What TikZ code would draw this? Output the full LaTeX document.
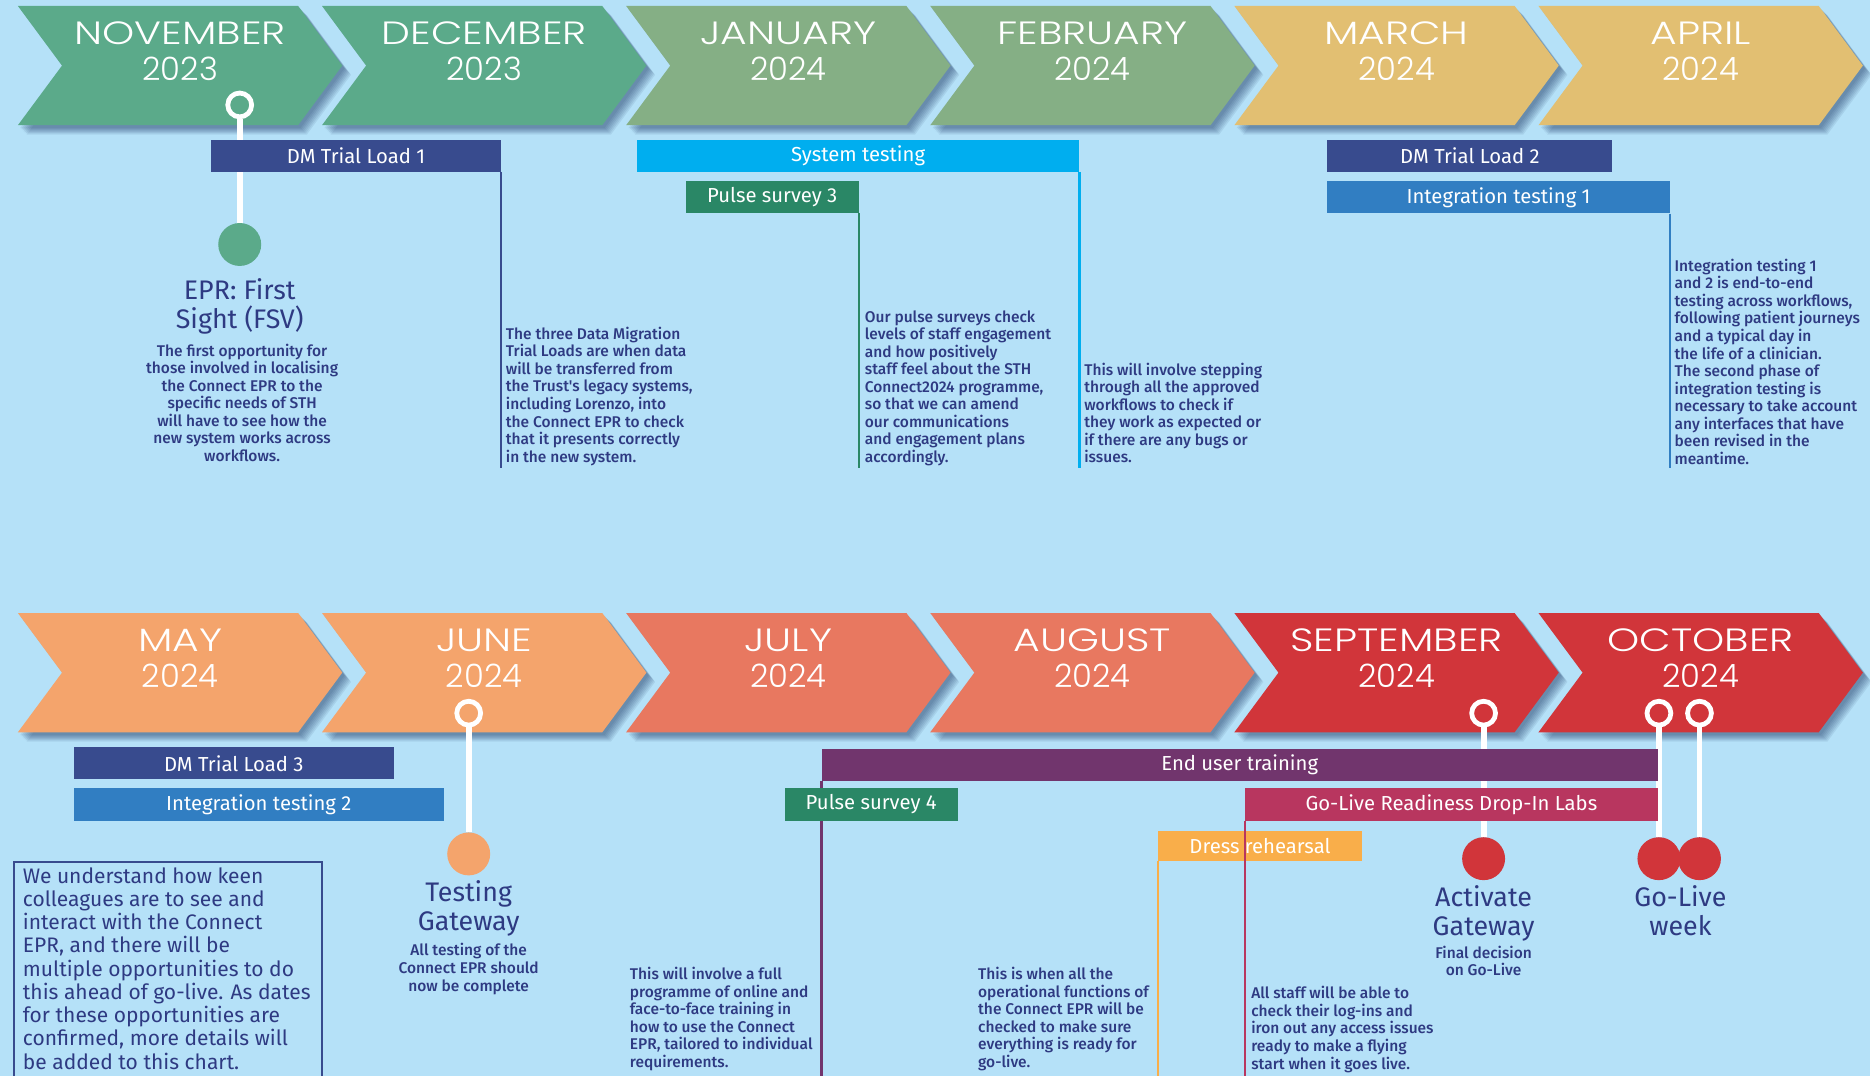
\documentclass[tikz,border=0pt]{standalone}
\usepackage{fontspec}
\usepackage{graphicx}
\setmainfont{Fira Sans}
\IfFontExistsTF{Poppins Light}{\newfontfamily\monthfont{Poppins Light}}{\newfontfamily\monthfont{Poppins}}
\IfFontExistsTF{Fira Sans Medium}{\newfontfamily\descfont{Fira Sans Medium}}{\newfontfamily\descfont{Fira Sans}}
\usetikzlibrary{calc}
\definecolor{bg}{RGB}{181,225,248}
\definecolor{cnov}{RGB}{91,170,138}
\definecolor{cjan}{RGB}{133,175,133}
\definecolor{cmar}{RGB}{226,191,114}
\definecolor{cmay}{RGB}{244,164,108}
\definecolor{cjul}{RGB}{232,120,96}
\definecolor{csep}{RGB}{209,53,58}
\definecolor{navy}{RGB}{56,75,142}
\definecolor{txt}{RGB}{46,58,130}
\definecolor{cyanb}{RGB}{0,174,239}
\definecolor{pulse}{RGB}{42,135,102}
\definecolor{integ}{RGB}{49,126,194}
\definecolor{purp}{RGB}{113,53,109}
\definecolor{golive}{RGB}{184,54,95}
\definecolor{dress}{RGB}{249,174,74}
\definecolor{shadowc}{RGB}{30,55,100}
\tikzset{
 monthtxt/.style={text=white,font=\monthfont\fontsize{27}{30}\selectfont,align=center,inner sep=0pt},
 barbox/.style={text=white,font=\fontsize{17}{18}\selectfont,inner sep=0pt,minimum height=27pt},
 desc/.style={text=txt,font=\descfont\fontsize{13}{14.7}\selectfont,align=left,inner sep=0pt,anchor=north west},
 cdesc/.style={desc,align=center,anchor=north},
 title/.style={text=txt,font=\fontsize{22.5}{24.5}\selectfont,align=center,inner sep=0pt,anchor=north},
 ring/.style={circle,draw=white,line width=4pt,minimum size=20pt,inner sep=0pt},
 dot/.style={circle,minimum size=36pt,inner sep=0pt},
 stem/.style={white,line width=5pt},
 vline/.style={line width=2pt},
 shadowlayer/.style={fill=shadowc,opacity=0.09},
}
\newcommand\chevpath[2]{(#1,#2) -- ++(235,0) -- ++(37,50) -- ++(-37,50) -- ++(-235,0) -- ++(37,-50) -- cycle}
\newcommand\mychev[6]{%
 \foreach \s in {1,...,7} {\fill[shadowlayer,shift={(\s*0.9+1,\s*0.9+1.5)}] \chevpath{#2}{#3};}
 \fill[#4] \chevpath{#2}{#3};
 \node[monthtxt] (#1) at (#2+136,#3+38) {\scalebox{1.27}[1]{#5}\\#6};
}
\begin{document}
\begin{tikzpicture}[x=1pt,y=-1pt]
\useasboundingbox (0,0) rectangle (1568,902);
\fill[bg] (0,0) rectangle (1568,902);
% top row chevrons
\mychev{nov}{15}{5}{cnov}{NOVEMBER}{2023}
\mychev{dec}{270}{5}{cnov}{DECEMBER}{2023}
\mychev{jan}{525}{5}{cjan}{JANUARY}{2024}
\mychev{feb}{780}{5}{cjan}{FEBRUARY}{2024}
\mychev{mar}{1035}{5}{cmar}{MARCH}{2024}
\mychev{apr}{1290}{5}{cmar}{APRIL}{2024}
% bottom row chevrons
\mychev{may}{15}{514}{cmay}{MAY}{2024}
\mychev{jun}{270}{514}{cmay}{JUNE}{2024}
\mychev{jul}{525}{514}{cjul}{JULY}{2024}
\mychev{aug}{780}{514}{cjul}{AUGUST}{2024}
\mychev{sep}{1035}{514}{csep}{SEPTEMBER}{2024}
\mychev{oct}{1290}{514}{csep}{OCTOBER}{2024}

% ---- top milestones
\node[ring,fill=cnov] (r1) at (201,88) {};
\node[dot,fill=cnov] (d1) at (201,205) {};
\draw[stem] (r1.south) -- (d1.north);

% ---- top bars
\node[barbox,fill=navy,minimum width=243pt] (dm1) at (298.5,130.5) {DM Trial Load 1};
\node[barbox,fill=cyanb,minimum width=371pt] (sys) at (719.5,130.5) {System testing};
\node[barbox,fill=pulse,minimum width=145pt] (ps3) at (647.5,165) {Pulse survey 3};
\node[barbox,fill=navy,minimum width=239pt] (dm2) at (1232.5,130.5) {DM Trial Load 2};
\node[barbox,fill=integ,minimum width=287pt] (it1) at (1256.5,165.5) {Integration testing 1};

\coordinate (dm1end) at (420,392);
\coordinate (sysend) at (905,392);
\coordinate (ps3end) at (720,392);
\coordinate (it1end) at (1400,392);
\draw[vline,navy] (dm1.south east) -- (dm1.south east |- dm1end);
\draw[vline,cyanb] (sys.south east) -- (sys.south east |- sysend);
\draw[vline,pulse] (ps3.south east) -- (ps3.south east |- ps3end);
\draw[vline,integ] (it1.south east) -- (it1.south east |- it1end);

% ---- top texts
\node[title] (t1) at (201,233) {EPR: First\\Sight (FSV)};
\node[cdesc] (t1d) at (203,288) {The first opportunity for\\those involved in localising\\the Connect EPR to the\\specific needs of STH\\will have to see how the\\new system works across\\workflows.};
\node[desc] (dm1d) at (424,274) {The three Data Migration\\Trial Loads are when data\\will be transferred from\\the Trust's legacy systems,\\including Lorenzo, into\\the Connect EPR to check\\that it presents correctly\\in the new system.};
\node[desc] (ps3d) at (725,260) {Our pulse surveys check\\levels of staff engagement\\and how positively\\staff feel about the STH\\Connect2024 programme,\\so that we can amend\\our communications\\and engagement plans\\accordingly.};
\node[desc] (sysd) at (909,304) {This will involve stepping\\through all the approved\\workflows to check if\\they work as expected or\\if there are any bugs or\\issues.};
\node[desc] (it1d) at (1404,217) {Integration testing 1\\and 2 is end-to-end\\testing across workflows,\\following patient journeys\\and a typical day in\\the life of a clinician.\\The second phase of\\integration testing is\\necessary to take account\\any interfaces that have\\been revised in the\\meantime.};

% ---- bottom milestones
\node[ring,fill=cmay] (r2) at (393,598) {};
\node[dot,fill=cmay] (d2) at (393,716) {};
\draw[stem] (r2.south) -- (d2.north);
\node[ring,fill=csep] (r3) at (1244,598) {};
\node[dot,fill=csep] (d3) at (1244,720) {};
\draw[stem] (r3.south) -- (d3.north);
\node[ring,fill=csep] (r4) at (1391,598) {};
\node[ring,fill=csep] (r5) at (1425,598) {};
\node[dot,fill=csep] (d4) at (1391,720) {};
\node[dot,fill=csep] (d5) at (1425,720) {};
\draw[stem] (r4.south) -- (d4.north);
\draw[stem] (r5.south) -- (d5.north);

% ---- bottom bars
\node[barbox,fill=navy,minimum width=268pt] (dm3) at (196,640) {DM Trial Load 3};
\node[barbox,fill=integ,minimum width=310pt] (it2) at (217,674.5) {Integration testing 2};
\node[barbox,fill=purp,minimum width=701pt] (eut) at (1039.5,641.5) {End user training};
\node[barbox,fill=golive,minimum width=346pt] (glr) at (1217,674.5) {Go-Live Readiness Drop-In Labs};
\node[barbox,fill=dress,minimum width=171pt,minimum height=25pt] (dr) at (1056.5,709.5) {Dress rehearsal};

\coordinate (eutend) at (689,910);
\coordinate (drend) at (971,910);
\coordinate (glrend) at (1044,910);
\draw[vline,purp] (eut.south west) -- (eut.south west |- eutend);
\draw[vline,dress] (dr.south west) -- (dr.south west |- drend);
\draw[vline,golive] (glr.south west) -- (glr.south west |- glrend);
\node[barbox,fill=pulse,minimum width=145pt] (ps4) at (730.5,674.5) {Pulse survey 4};

% ---- bottom texts
\node[title] (t2) at (393,738) {Testing\\Gateway};
\node[cdesc] (t2d) at (393,791) {All testing of the\\Connect EPR should\\now be complete};
\node[title] (t3) at (1244,742) {Activate\\Gateway};
\node[cdesc] (t3d) at (1244,793) {Final decision\\on Go-Live};
\node[title] (t4) at (1409,742) {Go-Live\\week};
\node[desc] (eutd) at (528,811) {This will involve a full\\programme of online and\\face-to-face training in\\how to use the Connect\\EPR, tailored to individual\\requirements.};
\node[desc] (drd) at (820,811) {This is when all the\\operational functions of\\the Connect EPR will be\\checked to make sure\\everything is ready for\\go-live.};
\node[desc] (glrd) at (1049,827) {All staff will be able to\\check their log-ins and\\iron out any access issues\\ready to make a flying\\start when it goes live.};

% ---- note box
\node[draw=navy,line width=1.5pt,anchor=north west,minimum width=258pt,minimum height=200pt,inner sep=0pt] (box) at (11,722) {};
\node[text=txt,font=\fontsize{17.6}{19.5}\selectfont,align=left,inner sep=0pt,anchor=north west] (boxt) at ($(box.north west)+(8,5)$) {We understand how keen\\colleagues are to see and\\interact with the Connect\\EPR, and there will be\\multiple opportunities to do\\this ahead of go-live. As dates\\for these opportunities are\\confirmed, more details will\\be added to this chart.};
\end{tikzpicture}
\end{document}
